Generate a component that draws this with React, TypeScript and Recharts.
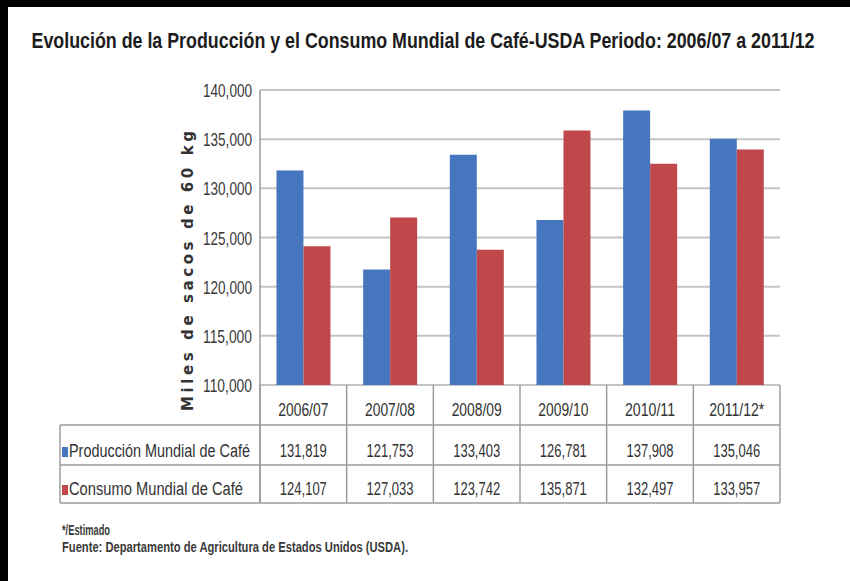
import { Bar, BarChart, CartesianGrid, XAxis, YAxis } from "recharts";

const periods = ["2006/07", "2007/08", "2008/09", "2009/10", "2010/11", "2011/12*"];
const produccion = [131819, 121753, 133403, 126781, 137908, 135046];
const consumo = [124107, 127033, 123742, 135871, 132497, 133957];
const yTicks = [110000, 115000, 120000, 125000, 130000, 135000, 140000];

const data = periods.map((period, i) => ({
  period,
  produccion: produccion[i],
  consumo: consumo[i]
}));

const BLUE = "#4677BE";
const RED = "#C0474A";
const FONT = "'Liberation Sans', Arial, sans-serif";
const LINE = "#9C9C9C";
const CELL = 520 / periods.length;

const fmt = (v: number) => v.toLocaleString("en-US");

// condensed text: squeezed horizontally by a transform so it keeps the tall look of the original
function Narrow({ x, y, w, sx, size, anchor = "start", bold = false, fill = "#333", children }: any) {
  return (
    <text
      transform={`translate(${x},${y}) scale(${sx},1)`}
      textAnchor={anchor}
      fontSize={size}
      fontWeight={bold ? "bold" : "normal"}
      fontFamily={FONT}
      fill={fill}
      textLength={w / sx}
      lengthAdjust="spacingAndGlyphs"
    >
      {children}
    </text>
  );
}

function YTick({ x, y, payload }: any) {
  return (
    <Narrow x={x} y={y + 7} w={49} sx={0.71} size={19} anchor="end" fill="#3a3a3a">
      {fmt(payload.value)}
    </Narrow>
  );
}

function TableTick({ x, y, payload }: any) {
  const i = payload.index;
  const l = x - CELL / 2;
  const r = x + CELL / 2;
  return (
    <g>
      <line x1={l} x2={l} y1={y} y2={y + 118} stroke={LINE} strokeWidth={1.5} />
      {i === periods.length - 1 && (
        <line x1={r} x2={r} y1={y} y2={y + 118} stroke={LINE} strokeWidth={1.5} />
      )}
      <line x1={l} x2={r} y1={y + 40} y2={y + 40} stroke={LINE} strokeWidth={1.5} />
      <line x1={l} x2={r} y1={y + 80} y2={y + 80} stroke={LINE} strokeWidth={1.5} />
      <line x1={l} x2={r} y1={y + 118} y2={y + 118} stroke={LINE} strokeWidth={1.5} />
      <Narrow x={x} y={y + 31} w={periods[i].length > 7 ? 55 : 50} sx={0.72} size={19} anchor="middle">
        {periods[i]}
      </Narrow>
      <Narrow x={x} y={y + 72} w={47} sx={0.69} size={19} anchor="middle">
        {fmt(produccion[i])}
      </Narrow>
      <Narrow x={x} y={y + 110} w={47} sx={0.69} size={19} anchor="middle">
        {fmt(consumo[i])}
      </Narrow>
    </g>
  );
}

export default function App() {
  return (
    <div style={{ position: "absolute", top: 0, left: 0, width: 850, height: 581, background: "#fff" }}>
      <BarChart
        width={850}
        height={581}
        data={data}
        margin={{ top: 90, right: 70, bottom: 0, left: 200 }}
        barCategoryGap="19%"
        barGap={0}
      >
        <CartesianGrid vertical={false} stroke="#C4C4C4" strokeWidth={2} />
        <XAxis
          dataKey="period"
          height={196}
          interval={0}
          axisLine={false}
          tickLine={false}
          tickSize={0}
          tickMargin={0}
          tick={<TableTick />}
        />
        <YAxis
          width={60}
          domain={[110000, 140000]}
          ticks={yTicks}
          allowDataOverflow
          axisLine={{ stroke: LINE, strokeWidth: 1.5 }}
          tickLine={false}
          tickSize={0}
          tickMargin={8}
          tick={<YTick />}
        />
        <Bar dataKey="produccion" fill={BLUE} isAnimationActive={false} />
        <Bar dataKey="consumo" fill={RED} isAnimationActive={false} />
      </BarChart>
      <svg
        width={850}
        height={581}
        style={{ position: "absolute", top: 0, left: 0, pointerEvents: "none" }}
      >
        <rect x={0} y={0} width={850} height={7} fill="#000" />
        <rect x={0} y={0} width={8} height={581} fill="#000" />
        <Narrow x={423} y={48} w={783} sx={0.8} size={22} anchor="middle" bold fill="#1c1c1c">
          Evolución de la Producción y el Consumo Mundial de Café-USDA Periodo: 2006/07 a 2011/12
        </Narrow>
        <text
          transform="translate(193,271) rotate(-90)"
          textAnchor="middle"
          fontSize={15}
          fontWeight="bold"
          fontFamily="'DejaVu Sans', Verdana, sans-serif"
          fill="#333"
          textLength={280}
          lengthAdjust="spacing"
        >
          Miles de sacos de 60 kg
        </text>
        <line x1={60} x2={260} y1={425} y2={425} stroke={LINE} strokeWidth={1.5} />
        <line x1={60} x2={260} y1={465} y2={465} stroke={LINE} strokeWidth={1.5} />
        <line x1={60} x2={260} y1={503} y2={503} stroke={LINE} strokeWidth={1.5} />
        <line x1={60} x2={60} y1={425} y2={503} stroke={LINE} strokeWidth={1.5} />
        <line x1={260} x2={260} y1={385} y2={503} stroke={LINE} strokeWidth={1.5} />
        <rect x={62} y={447} width={6} height={10} fill={BLUE} />
        <rect x={62} y={485} width={6} height={10} fill={RED} />
        <Narrow x={69} y={457} w={181} sx={0.76} size={19}>
          Producción Mundial de Café
        </Narrow>
        <Narrow x={69} y={495} w={174} sx={0.77} size={19}>
          Consumo Mundial de Café
        </Narrow>
        <Narrow x={62} y={535} w={48} sx={0.67} size={14} bold fill="#3a3a3a">
          */Estimado
        </Narrow>
        <Narrow x={62} y={552} w={346} sx={0.8} size={14} bold fill="#3a3a3a">
          Fuente: Departamento de Agricultura de Estados Unidos (USDA).
        </Narrow>
      </svg>
    </div>
  );
}
